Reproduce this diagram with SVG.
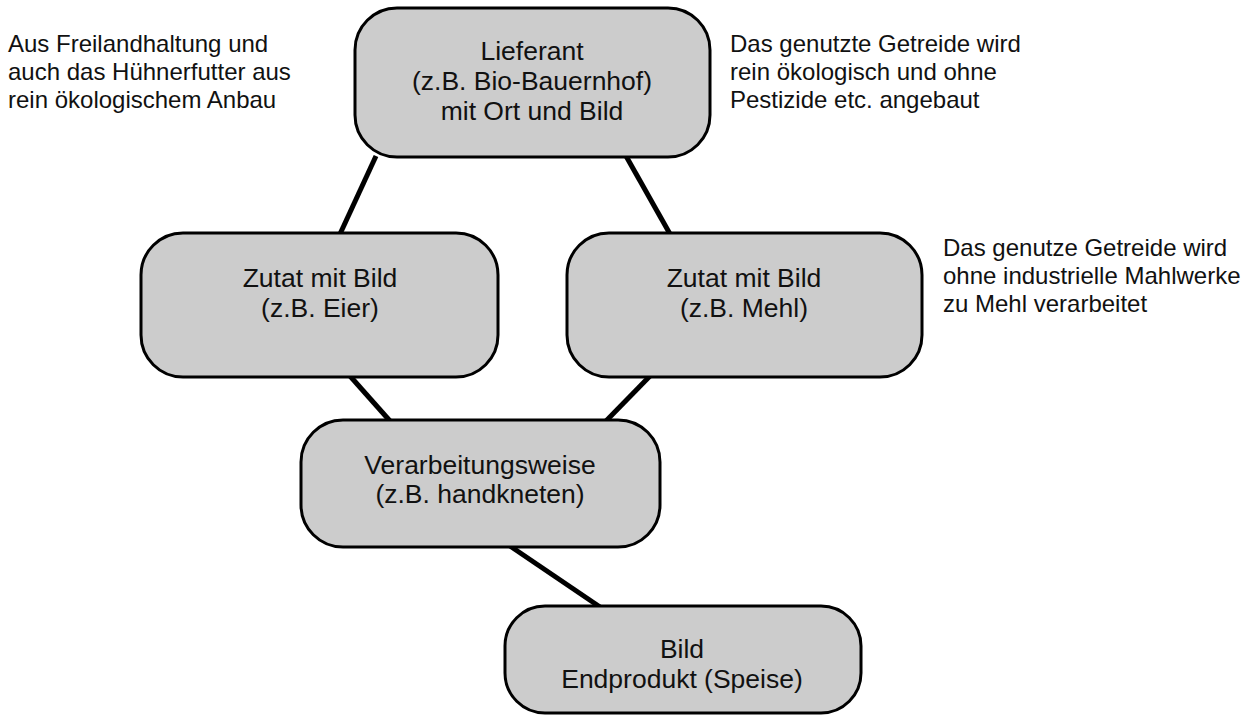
<svg xmlns="http://www.w3.org/2000/svg" width="1248" height="715" viewBox="0 0 1248 715">
<style>
.box{fill:#cccccc;stroke:#000;stroke-width:3}
.nt{font-family:"Liberation Sans",Arial,sans-serif;font-size:26.5px;fill:#111;text-anchor:middle}
.st{font-family:"Liberation Sans",Arial,sans-serif;font-size:24px;fill:#111}
.conn line{stroke:#000;stroke-width:5}
</style>
<rect width="1248" height="715" fill="#fff"/>
<g id="connectors" class="conn">
<line x1="376" y1="156" x2="340" y2="234"/>
<line x1="626" y1="156" x2="670" y2="234"/>
<line x1="350" y1="376" x2="390" y2="421"/>
<line x1="650" y1="376" x2="606" y2="421"/>
<line x1="510" y1="546" x2="600" y2="607"/>
</g>
<g id="lieferant">
<rect class="box" x="355" y="8" width="355" height="149" rx="42"/>
<text class="nt" x="532" y="60">Lieferant</text>
<text class="nt" x="532" y="90">(z.B. Bio-Bauernhof)</text>
<text class="nt" x="532" y="120">mit Ort und Bild</text>
</g>
<g id="zutat-eier">
<rect class="box" x="141" y="233" width="357" height="144" rx="42"/>
<text class="nt" x="320" y="287">Zutat mit Bild</text>
<text class="nt" x="320" y="317">(z.B. Eier)</text>
</g>
<g id="zutat-mehl">
<rect class="box" x="567" y="233" width="355" height="144" rx="42"/>
<text class="nt" x="744" y="287">Zutat mit Bild</text>
<text class="nt" x="744" y="317">(z.B. Mehl)</text>
</g>
<g id="verarbeitung">
<rect class="box" x="301" y="420" width="359" height="127" rx="42"/>
<text class="nt" x="480" y="474">Verarbeitungsweise</text>
<text class="nt" x="480" y="503">(z.B. handkneten)</text>
</g>
<g id="endprodukt">
<rect class="box" x="505" y="606" width="356" height="107" rx="40"/>
<text class="nt" x="682" y="658">Bild</text>
<text class="nt" x="682" y="688">Endprodukt (Speise)</text>
</g>
<g id="note-eier">
<text class="st" x="8" y="52">Aus Freilandhaltung und</text>
<text class="st" x="8" y="80">auch das Hühnerfutter aus</text>
<text class="st" x="8" y="108">rein ökologischem Anbau</text>
</g>
<g id="note-lieferant">
<text class="st" x="730" y="52">Das genutzte Getreide wird</text>
<text class="st" x="730" y="80">rein ökologisch und ohne</text>
<text class="st" x="730" y="108">Pestizide etc. angebaut</text>
</g>
<g id="note-mehl">
<text class="st" x="943" y="256">Das genutze Getreide wird</text>
<text class="st" x="943" y="284">ohne industrielle Mahlwerke</text>
<text class="st" x="943" y="312">zu Mehl verarbeitet</text>
</g>
</svg>
